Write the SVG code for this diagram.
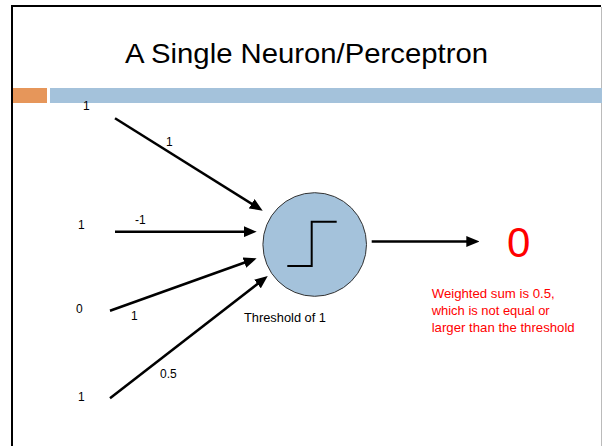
<svg xmlns="http://www.w3.org/2000/svg" width="602" height="446" viewBox="0 0 602 446">
<style>
.lbl{font-family:"Liberation Sans",Arial,sans-serif;font-size:12px;fill:#000}
.red{font-family:"Liberation Sans",Arial,sans-serif;font-size:13px;fill:#ff0000}
.ar{stroke:#000;stroke-width:2.5;fill:none;marker-end:url(#ah)}
</style>
<defs>
<marker id="ah" viewBox="0 0 13 11" refX="7" refY="5.5" markerWidth="13" markerHeight="11" markerUnits="userSpaceOnUse" orient="auto">
<path d="M0,0 L13,5.5 L0,11 z" fill="#000"/>
</marker>
</defs>
<rect x="0" y="0" width="602" height="446" fill="#fff"/>
<g id="frame">
<line x1="11" y1="6" x2="601" y2="6" stroke="#000" stroke-width="2"/>
<line x1="12" y1="5" x2="12" y2="446" stroke="#000" stroke-width="2"/>
<line x1="601.5" y1="7" x2="601.5" y2="446" stroke="#bbb" stroke-width="1"/>
<rect x="13" y="88" width="34" height="15" fill="#e6965a"/>
<rect x="50" y="88" width="552" height="15" fill="#a4c2db"/>
</g>
<g id="title">
<text x="125" y="63" font-family="'Liberation Sans',Arial,sans-serif" font-size="28" textLength="363" lengthAdjust="spacingAndGlyphs" fill="#000">A Single Neuron/Perceptron</text>
</g>
<g id="inputs">
<text class="lbl" x="83" y="110">1</text>
<text class="lbl" x="78" y="229">1</text>
<text class="lbl" x="76" y="313">0</text>
<text class="lbl" x="78" y="401">1</text>
</g>
<g id="connectors">
<line class="ar" x1="115" y1="118.3" x2="257.6" y2="207.5"/>
<line class="ar" x1="115" y1="231.7" x2="250.7" y2="231.7"/>
<line class="ar" x1="110" y1="310.7" x2="251" y2="260.3"/>
<line class="ar" x1="110" y1="398.3" x2="263" y2="279.7"/>
<line class="ar" x1="371.7" y1="241.5" x2="473.3" y2="241.5"/>
</g>
<g id="weights">
<text class="lbl" x="166" y="146">1</text>
<text class="lbl" x="135" y="224">-1</text>
<text class="lbl" x="131" y="320">1</text>
<text class="lbl" x="160" y="378">0.5</text>
</g>
<g id="neuron">
<circle cx="314.7" cy="244.5" r="51.8" fill="#a4c2db" stroke="#333" stroke-width="1"/>
<polyline points="287.3,266 311.7,266 311.7,221.7 336.7,221.7" fill="none" stroke="#000" stroke-width="2"/>
<text class="lbl" x="244" y="322" textLength="82" lengthAdjust="spacingAndGlyphs">Threshold of 1</text>
</g>
<g id="output">
<text x="518.7" y="257" text-anchor="middle" font-family="'Liberation Sans',Arial,sans-serif" font-size="42" fill="#ff0000">0</text>
<text class="red" x="431.7" y="298.3" textLength="123" lengthAdjust="spacingAndGlyphs">Weighted sum is 0.5,</text>
<text class="red" x="431.7" y="315" textLength="118" lengthAdjust="spacingAndGlyphs">which is not equal or</text>
<text class="red" x="431.7" y="331.7" textLength="143" lengthAdjust="spacingAndGlyphs">larger than the threshold</text>
</g>
</svg>
